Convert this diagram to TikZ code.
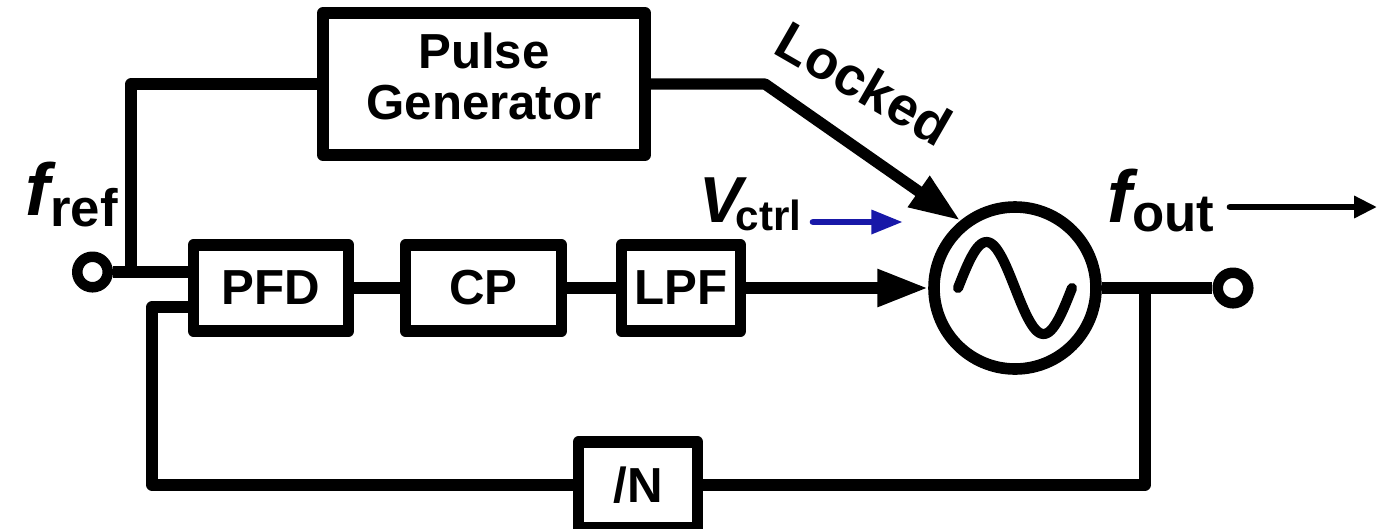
\documentclass[tikz,border=0pt]{standalone}
\usepackage{fontspec}
\setmainfont{Liberation Sans}
\usepackage{xcolor}
\usetikzlibrary{arrows.meta,positioning,calc}
\definecolor{ctrlblue}{RGB}{24,24,168}

\begin{document}
\begin{tikzpicture}[line width=3.2pt,line join=round,
  font=\fontsize{14}{14.5}\selectfont\bfseries,
  >={Triangle[length=14.5pt,width=10pt]},
  blk/.style={draw,line width=3.3pt,inner sep=0pt,align=center,minimum height=0.86cm},
  term/.style={circle,draw,line width=3pt,fill=white,minimum size=0.305cm,inner sep=0pt},
  sig/.style={inner sep=0pt,anchor=base west}]
\useasboundingbox (0,0) rectangle (13.77,-5.28);
% blocks
\node[blk,minimum width=3.22cm,minimum height=1.42cm,text depth=4.5pt] (pg) at (4.84,-0.84) {Pulse\\Generator};
\node[blk,minimum width=1.55cm] (pfd) at (2.71,-2.88) {PFD};
\node[blk,minimum width=1.56cm] (cp) at (4.835,-2.88) {CP};
\node[blk,minimum width=1.19cm] (lpf) at (6.81,-2.88) {LPF};
\node[blk,minimum width=1.19cm] (div) at (6.38,-4.85) {/N};
% oscillator
\node[circle,draw,line width=3.3pt,minimum size=1.62cm,inner sep=0pt] (vco) at (10.15,-2.88) {};
\begin{scope}[shift={(vco.center)}]
\draw[line width=2.9pt,line cap=round]
  plot[domain=-0.57:0.57,samples=60,smooth] (\x,{0.46*sin((\x+0.57)*315.8)});
\end{scope}
% terminals
\node[term] (ref) at (0.925,-2.72) {};
\node[term] (out) at (12.33,-2.88) {};
\coordinate (tap) at (1.31,-2.72);
\coordinate (fb) at (1.52,-3.07);
\coordinate (bend) at (7.65,-0.84);
\coordinate (otap) at (11.45,-2.88);
% forward path
\draw (ref) -- (ref -| pfd.west);
\draw (tap) |- (pg.west);
\draw (pfd) -- (cp);
\draw (cp) -- (lpf);
\draw[->] (lpf) -- (vco);
\draw[->] (pg.east) -- (bend) -- (vco.129);
\draw (vco) -- (out);
% feedback
\draw (otap) |- (div.east);
\draw (div.west) -| (fb) -- (fb -| pfd.west);
% labels
\node[sig] (fref) at (0.20,-2.15) {{\fontsize{21}{21}\selectfont\itshape f}\raisebox{-3.4pt}{\fontsize{15}{15}\selectfont ref}};
\node[sig] (fout) at (11.02,-2.22) {{\fontsize{21}{21}\selectfont\itshape f}\raisebox{-2.8pt}{\fontsize{15}{15}\selectfont out}};
\node[sig] (vctrl) at (6.94,-2.22) {{\fontsize{18.5}{18.5}\selectfont\itshape V}\kern-2pt\raisebox{-2.3pt}{\fontsize{12}{12}\selectfont ctrl}};
\node[rotate=-30,anchor=base,inner sep=0pt,font=\fontsize{15.5}{16}\selectfont\bfseries] (locked) at (8.545,-1.00) {Locked};
% side arrows
\coordinate (va) at (8.13,-2.22);
\coordinate (vb) at (9.03,-2.22);
\draw[ctrlblue,line width=1.9pt,line cap=round,-{Triangle[length=9pt,width=6.5pt]}] (va) -- (vb);
\coordinate (oa) at (12.30,-2.07);
\coordinate (ob) at (13.77,-2.07);
\draw[line width=1.9pt,line cap=round,-{Triangle[length=6.5pt,width=6pt]}] (oa) -- (ob);
\end{tikzpicture}
\end{document}
